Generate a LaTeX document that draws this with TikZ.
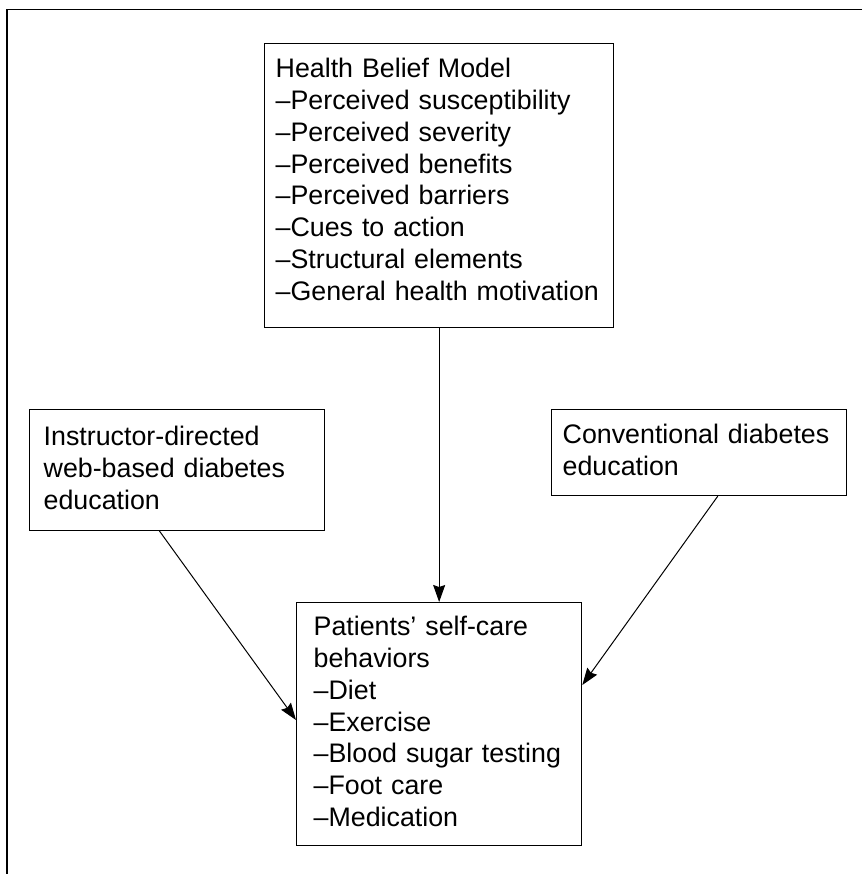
\documentclass[tikz,border=0pt]{standalone}
\usepackage{fontspec}
\setmainfont{Liberation Sans}
\usepackage{tikz}
\usetikzlibrary{arrows.meta,calc,positioning}
\newcommand{\tgap}[1]{\rule{0pt}{#1pt}}
\newcommand{\bgap}[1]{\rule[-#1pt]{0pt}{#1pt}}
\tikzset{bx/.style={draw, line width=1.3pt, align=left, anchor=north west,
  inner ysep=0pt, font=\fontsize{26.8}{31.8}\selectfont}}
\tikzset{k/.style={draw, line width=1pt,
  -{Stealth[length=17pt, width=12pt, inset=2pt]}}}
\begin{document}
\begin{tikzpicture}[x=1pt, y=-1pt]
  \useasboundingbox (0,0) rectangle (862,874);
  %% frame
  \draw[line width=1.7pt] (862,9.5) -- (7,9.5) -- (7,874);
  %%
  \node (hbm) at (264,43) [bx, inner xsep=11pt, text width=327pt]
    {\tgap{34}Health Belief Model\\
     --Perceived susceptibility\\ --Perceived severity\\
     --Perceived benefits\\ --Perceived barriers\\ --Cues to action\\
     --Structural elements\\ --General health motivation\bgap{27}};
  \node (web) at (29,409) [bx, inner xsep=14pt, text width=267pt]
    {\tgap{36}Instructor-directed\\ web-based diabetes\\ education\bgap{21}};
  \node (conv) at (551,409) [bx, inner xsep=11pt, text width=273pt]
    {\tgap{34}Conventional diabetes\\ education\bgap{20}};
  \node (self) at (296,602) [bx, inner xsep=17pt, text width=251pt]
    {\tgap{33}Patients' self-care\\ behaviors\\ --Diet\\ --Exercise\\
     --Blood sugar testing\\ --Foot care\\ --Medication\bgap{19}};
  %%
  \coordinate (w0) at ($(web.south west)!0.44!(web.south east)$);
  \coordinate (w1) at ($(self.north west)+(0,118)$);
  \coordinate (c0) at ($(conv.south west)!0.563!(conv.south east)$);
  \coordinate (c1) at ($(self.north east)+(0,83)$);
  \draw [k] (hbm) to (self);
  \draw [k] (w0) to (w1);
  \draw [k] (c0) to (c1);
\end{tikzpicture}
\end{document}
